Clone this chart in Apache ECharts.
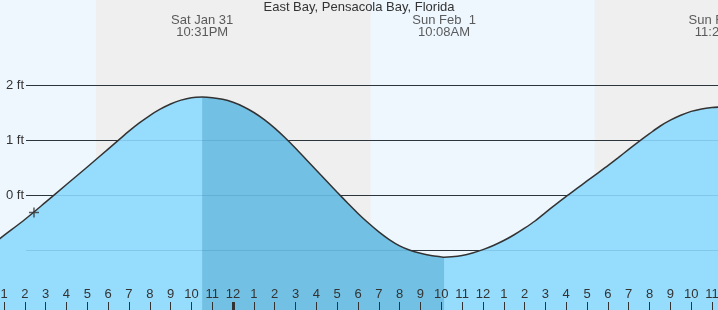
<!DOCTYPE html>
<html>
<head>
<meta charset="utf-8">
<script src="https://cdn.jsdelivr.net/npm/echarts@6/dist/echarts.min.js"></script>
<style>
html,body{margin:0;padding:0;background:#eef7fe;overflow:hidden;}
#c{width:718px;height:310px;}
</style>
</head>
<body>
<div id="c"></div>
<script>
// Time in hours after noon, Sat Jan 31 (local time); height in feet
const tideHours = [0.5, 1, 2, 3, 4, 5, 6, 6.5, 7, 7.5, 8, 8.5, 9, 9.5, 10, 10.517, 11, 11.5, 12, 12.5, 13, 13.5, 14, 14.5, 15, 15.5, 16, 16.5, 17, 17.5, 18, 18.5, 19, 19.5, 20, 20.5, 21, 21.5, 22, 22.133, 22.5, 23, 23.5, 24, 24.5, 25, 25.5, 26, 26.5, 27, 27.5, 28, 28.5, 29, 29.5, 30, 30.5, 31, 31.5, 32, 32.5, 33, 33.5, 34, 34.5, 35, 35.4];
const tideFeet  = [-0.88, -0.735, -0.445, -0.13, 0.19, 0.51, 0.835, 0.997, 1.16, 1.31, 1.445, 1.56, 1.655, 1.725, 1.77, 1.78, 1.77, 1.74, 1.685, 1.605, 1.50, 1.37, 1.215, 1.04, 0.85, 0.65, 0.45, 0.25, 0.05, -0.145, -0.335, -0.51, -0.67, -0.81, -0.925, -1.005, -1.06, -1.10, -1.125, -1.13, -1.123, -1.098, -1.053, -0.993, -0.918, -0.828, -0.723, -0.603, -0.473, -0.32, -0.17, -0.025, 0.115, 0.255, 0.395, 0.535, 0.68, 0.83, 0.975, 1.115, 1.25, 1.36, 1.45, 1.52, 1.565, 1.59, 1.60];

const extremeHours = [10.517, 22.133, 35.4];
const extremeDay   = ['Sat Jan 31', 'Sun Feb  1', 'Sun Feb  1'];
const extremeClock = ['10:31PM', '10:08AM', '11:24PM'];

const hourTicks = [1,2,3,4,5,6,7,8,9,10,11,12,13,14,15,16,17,18,19,20,21,22,23,24,25,26,27,28,29,30,31,32,33,34,35];
const midnightHours = [12];

const nightStart = [5.42, 29.37];
const nightEnd   = [18.61, 42.7];

const gridFeet = [-1, 0, 1, 2];

const currentHour = 2.44;
const currentFeet = -0.32;

const xMin = 0.808, xMax = 35.288;
const yMin = -2.0909, yMax = 3.5455;

const FONT = "'Liberation Sans', Arial, sans-serif";
const TXT = '#333';

const tidePts = tideHours.map((h, i) => [h, tideFeet[i]]);
const fallingPts = tidePts.filter(p => p[0] >= extremeHours[0] && p[0] <= extremeHours[1]);

const chart = echarts.init(document.getElementById('c'), null, {renderer: 'canvas'});
chart.setOption({
  animation: false,
  backgroundColor: '#eef7fe',
  title: {
    text: 'East Bay, Pensacola Bay, Florida',
    left: 'center', top: 0, padding: [0, 0, 0, 0],
    textStyle: {fontFamily: FONT, fontSize: 13, fontWeight: 'normal', color: TXT, lineHeight: 15}
  },
  grid: [
    {left: 0, right: 0, top: 0, bottom: 0, containLabel: false, outerBoundsMode: 'none'},
    {left: 26, right: 0, top: 30, bottom: 5, containLabel: false, outerBoundsMode: 'none'}
  ],
  xAxis: [
    {
      gridIndex: 0, type: 'value', min: xMin, max: xMax, z: 6, position: 'bottom',
      axisLine: {show: false, onZero: false}, splitLine: {show: false},
      axisTick: {show: true, inside: true, length: 8, customValues: hourTicks, lineStyle: {color: TXT, width: 1}},
      axisLabel: {show: true, inside: true, margin: 9, customValues: hourTicks,
        formatter: v => String(((Math.round(v) - 1) % 12) + 1),
        color: TXT, fontSize: 13, fontFamily: FONT}
    },
    {
      gridIndex: 0, type: 'value', min: xMin, max: xMax, z: 6, position: 'bottom',
      axisLine: {show: false, onZero: false}, splitLine: {show: false}, axisLabel: {show: false},
      axisTick: {show: true, inside: true, length: 8, customValues: midnightHours, lineStyle: {color: TXT, width: 3}}
    },
    {gridIndex: 1, type: 'value', min: 0, max: 1, show: false, axisLine: {onZero: false}}
  ],
  yAxis: [
    {gridIndex: 0, type: 'value', min: yMin, max: yMax, show: false},
    {
      gridIndex: 1, type: 'value', min: -2, max: 3, interval: 1, z: 1,
      axisLine: {show: false, onZero: false}, axisTick: {show: false},
      axisLabel: {showMinLabel: false, showMaxLabel: false, margin: 2,
        formatter: v => v + ' ft', color: TXT, fontSize: 13, fontFamily: FONT},
      splitLine: {show: true, showMinLine: false, showMaxLine: false, lineStyle: {color: TXT, width: 1}}
    }
  ],
  series: [
    {
      type: 'line', xAxisIndex: 0, yAxisIndex: 0, z: 0, silent: true,
      data: tidePts, showSymbol: false, lineStyle: {opacity: 0, width: 0},
      markArea: {silent: true, z: 0, itemStyle: {color: '#efefef'},
        data: nightStart.map((s, i) => [{xAxis: s}, {xAxis: nightEnd[i]}])}
    },
    {
      type: 'line', xAxisIndex: 0, yAxisIndex: 0, z: 2, silent: true, smooth: 0.3, clip: false,
      data: tidePts, showSymbol: false, lineStyle: {opacity: 0, width: 0},
      areaStyle: {color: '#96dcfc', opacity: 1, origin: 'start'}
    },
    {
      type: 'line', xAxisIndex: 0, yAxisIndex: 0, z: 2, silent: true, smooth: 0.3,
      data: fallingPts, showSymbol: false, lineStyle: {opacity: 0, width: 0},
      areaStyle: {color: '#72c0e4', opacity: 1, origin: 'start'}
    },
    {
      type: 'line', xAxisIndex: 2, yAxisIndex: 1, z: 3, silent: true,
      data: [[0, 0]], showSymbol: false, lineStyle: {opacity: 0, width: 0},
      markLine: {silent: true, z: 3, symbol: 'none', label: {show: false},
        lineStyle: {color: 'rgba(0,60,120,0.13)', width: 1, type: 'solid'},
        data: gridFeet.map(v => ({yAxis: v}))}
    },
    {
      type: 'line', xAxisIndex: 0, yAxisIndex: 0, z: 4, silent: true, smooth: 0.3, clip: false,
      data: tidePts, showSymbol: false, lineStyle: {color: '#333', width: 1.5}
    },
    {
      type: 'scatter', xAxisIndex: 0, yAxisIndex: 0, z: 5, silent: true,
      data: [[currentHour, currentFeet]],
      symbol: 'path://M4.25,0H5.75V4.25H10V5.75H5.75V10H4.25V5.75H0V4.25H4.25Z',
      symbolSize: 10, itemStyle: {color: '#333'}
    },
    {
      type: 'scatter', xAxisIndex: 0, yAxisIndex: 0, z: 6, silent: true, clip: false,
      data: extremeHours.map(h => [h, yMax]), symbolSize: 0,
      label: {show: true, position: 'bottom', distance: 14,
        formatter: p => extremeDay[p.dataIndex] + '\n' + extremeClock[p.dataIndex],
        color: TXT, fontSize: 13, lineHeight: 12, align: 'center', fontFamily: FONT}
    }
  ]
});
</script>
</body>
</html>
